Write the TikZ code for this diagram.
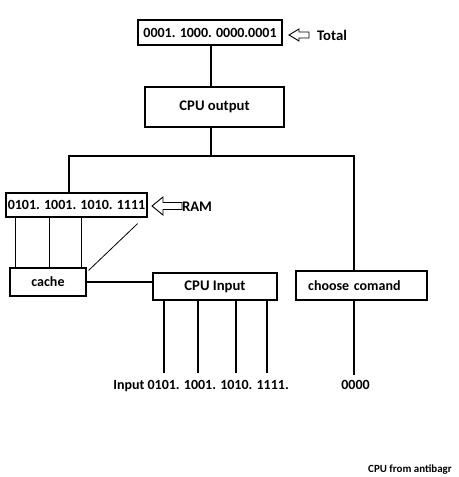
\documentclass[tikz,border=0pt]{standalone}
\usepackage{fontspec}
\setmainfont{Carlito}
\usetikzlibrary{calc}

\tikzset{
  box/.style={draw, line width=0.9pt, rectangle, inner sep=0.75pt, font=\bfseries\fontsize{10.5}{12}\selectfont},
  txt/.style={inner sep=0.75pt, font=\bfseries\fontsize{10.5}{12}\selectfont},
  wire/.style={line width=0.9pt},
}

\begin{document}
\begin{tikzpicture}[x=0.75pt,y=0.75pt,yscale=-1,xscale=1]
		\useasboundingbox (0,0) rectangle (459,477);
		
		%Shape: Rectangle [id:total box] 
		\node [box, minimum width=108pt, minimum height=18.75pt] (total) at (210,32.5) {0001. 1000. 0000.0001};
		%Shape: Rectangle [id:cpu output] 
		\node [box, minimum width=104.25pt, minimum height=30pt, font=\bfseries\fontsize{11}{12}\selectfont] (cpuout) at (214.5,107) {CPU output};
		%Shape: Rectangle [id:ram box] 
		\node [box, minimum width=105.75pt, minimum height=18pt] (ram) at (76.5,205) {0101. 1001. 1010. 1111};
		%Shape: Rectangle [id:cache] 
		\node [box, minimum width=57pt, minimum height=21pt] (cache) at (48,282) {cache};
		%Shape: Rectangle [id:cpu input] 
		\node [box, minimum width=93pt, minimum height=20.25pt, font=\bfseries\fontsize{11}{12}\selectfont] (cpuin) at (215,286.5) {CPU Input};
		%Shape: Rectangle [id:choose] 
		\node [box, minimum width=98.25pt, minimum height=21.75pt, text width=80pt, align=left, inner xsep=9pt] (choose) at (361.5,285.5) {choose comand};
		
		%Hollow arrows
		\draw [wire, line width=0.7pt] (289,35) -- (299,29) -- (299,32) -- (309,32) -- (309,38) -- (299,38) -- (299,41) -- cycle ;
		\draw [wire, line width=0.7pt] (152,206) -- (163,197) -- (163,202.5) -- (182,202.5) -- (182,209.5) -- (163,209.5) -- (163,215) -- cycle ;
		
		%Straight Lines [id:stem] 
		\coordinate (stem) at (211,156);
		\coordinate (busL) at (69,156);
		\coordinate (busR) at (354,156);
		\draw [wire] (stem |- total.south) -- (stem |- cpuout.north) ;
		\draw [wire] (stem |- cpuout.south) -- (stem) ;
		\draw [wire] (busL |- ram.north) -- (busL) -- (busR) -- (busR |- choose.north) ;
		
		%Straight Lines [id:ram to cache] 
		\foreach \d/\n in {10/p,44/q,76/r} {
			\coordinate (\n) at ([xshift=\d*0.75pt]ram.south west);
			\draw [wire] (\n) -- (\n |- cache.north) ;
		}
		\draw [wire, line width=0.6pt] ([xshift=-7.5pt,yshift=4.5pt]ram.south east) -- ([xshift=1.5pt,yshift=2.25pt]cache.north east) ;
		%Straight Lines [id:cache to input] 
		\draw [wire] (cache.east) -- (cache.east -| cpuin.west) ;
		
		%Straight Lines [id:input wires] 
		\foreach \x/\n in {164/a,198/b,236/c,267/d} {
			\coordinate (in\n) at (\x,373);
			\draw [wire] (in\n |- cpuin.south) -- (in\n) ;
		}
		%Straight Lines [id:choose wire] 
		\coordinate (zero) at (354,375);
		\draw [wire] (zero |- choose.south) -- (zero) ;
		
		% Text Node
		\node [txt, font=\bfseries\fontsize{11}{12}\selectfont] (totallbl) at (332,35) {Total};
		% Text Node
		\node [txt, font=\bfseries\fontsize{11}{12}\selectfont] (ramlbl) at (197,207) {RAM};
		% Text Node
		\node [txt] (inlbl) at (201,386) {Input 0101. 1001. 1010. 1111.};
		% Text Node
		\node [txt] (zerolbl) at (355.5,385) {0000};
		% Text Node
		\node [txt, font=\bfseries\fontsize{8.2}{10}\selectfont] (credit) at (410,470) {CPU from antibagr};
		
	\end{tikzpicture}
\end{document}
